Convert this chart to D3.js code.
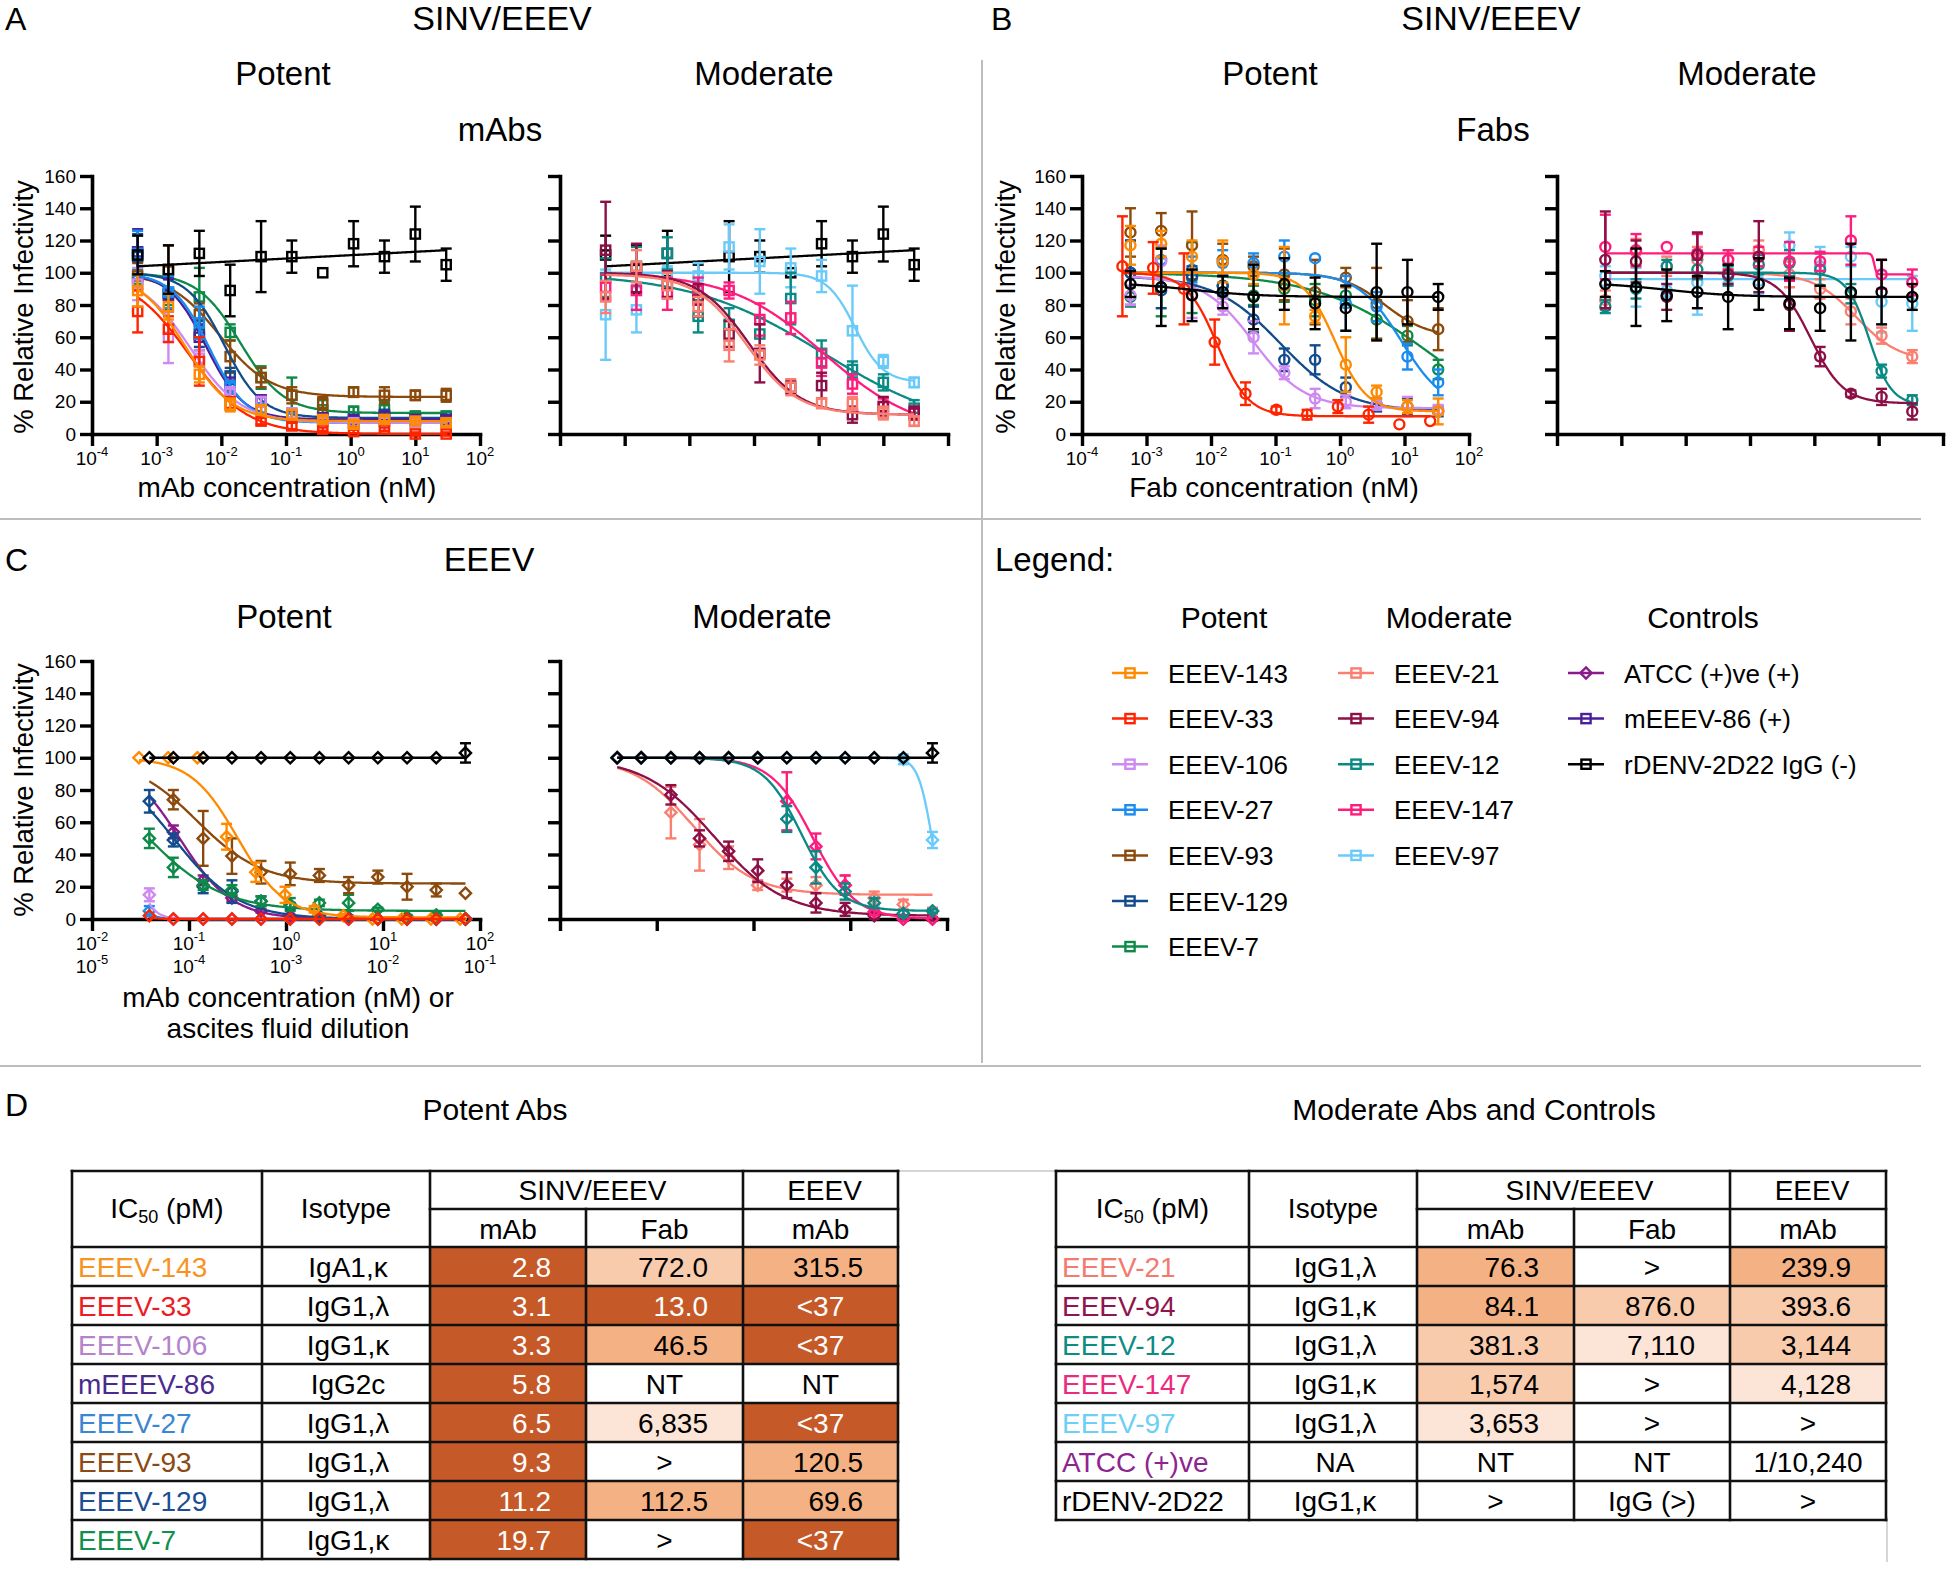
<!DOCTYPE html>
<html><head><meta charset="utf-8">
<script src="https://cdn.jsdelivr.net/npm/d3@7"></script>
<style>
body{margin:0;background:#fff;}
svg{display:block;}
</style></head><body>
<svg id="fig" width="1950" height="1571"></svg>
<script>
// ======================= DATA =======================
// concentrations (nM)
const concA   = [0.000508, 0.00152, 0.00457, 0.0137, 0.0412, 0.123, 0.370, 1.11, 3.33, 10, 30];
const concB   = [0.000564, 0.00169, 0.00508, 0.0152, 0.0457, 0.137, 0.411, 1.23, 3.70, 11.1, 33.3];
const concB33 = [0.000423, 0.00127, 0.00381, 0.0114, 0.0343, 0.103, 0.309, 0.926, 2.78, 8.33, 25];
const concC   = [0.039, 0.069, 0.14, 0.277, 0.553, 1.106, 2.21, 4.42, 8.85, 17.7, 35.4, 70.8];
const concC143= [0.0305, 0.061, 0.122, 0.244, 0.488, 0.977, 1.95, 3.9, 7.8, 15.6, 31.25, 62.5];

// ---- Panel A, potent (mAbs, SINV/EEEV) ----
const namesApot = ["EEEV-7","EEEV-93","EEEV-129","mEEEV-86","EEEV-27","EEEV-106","EEEV-33","EEEV-143","rDENV-2D22"];
const valsApot = [
  [96, 88, 85, 63, 35, 24, 15, 14, 15, 11, 11],
  [98, 101, 74, 48, 35, 24, 19, 26, 24, 24, 24],
  [110, 87, 62, 36, 20, 11, 10, 9, 12, 9, 9],
  [113, 86, 60, 30, 21, 12, 10, 9, 11, 9, 9],
  [112, 88, 69, 29, 16, 10, 8, 6, 8, 7, 7],
  [93, 60, 47, 25, 20, 13, 8, 7, 8, 7, 6],
  [76, 65, 45, 19, 8, 5, 3, 1.5, 3, 0, 0],
  [89, 79, 37, 18, 15, 12, 9, 6, 9, 8, 7],
  [111, 102, 112, 89, 110, 110, 100, 118, 110, 124, 105]
];
const errsApot = [
  [6, 8, 18, 5, 7, 11, 6, 3, 5, 3, 3],
  [8, 16, 7, 10, 6, 5, 4, 3, 5, 3, 4],
  [14, 10, 8, 5, 3, 3, 2, 2, 3, 2, 2],
  [14, 10, 8, 5, 3, 3, 2, 2, 3, 2, 2],
  [14, 10, 10, 4, 3, 3, 2, 2, 2, 2, 2],
  [10, 16, 5, 4, 3, 3, 2, 2, 2, 2, 2],
  [13, 8, 15, 4, 2, 2, 1, 1, 1, 1, 1],
  [10, 8, 5, 4, 3, 3, 2, 2, 2, 2, 2],
  [12, 15, 14, 16, 22, 10, 0, 14, 10, 17, 10]
];
// logistic fits: [bottom, top, IC50 (nM), hill]; linear fits: [a, b] (y = a + b*log10 x)
const fitsApot = [
  [13, 100, 0.0197, 1.3],
  [23, 100, 0.0093, 1.1],
  [10, 100, 0.0112, 1.5],
  [9, 100, 0.0058, 1.5],
  [7, 100, 0.0065, 1.5],
  [7, 100, 0.0033, 1.1],
  [0, 100, 0.0031, 0.95],
  [8, 100, 0.0028, 1.2],
  [110.9, 2.1]
];

// ---- Panel A, moderate ----
const namesAmod = ["rDENV-2D22","EEEV-97","EEEV-12","EEEV-147","EEEV-94","EEEV-21"];
const valsAmod = [
  [111, 102, 112, 89, 110, 110, 100, 118, 110, 124, 105],
  [74, 77, 100, 98, 116, 107, 103, 98, 64, 45, 32],
  [97, 104, 112, 73, 68, 62, 84, 50, 40, 32, 16],
  [91, 89, 87, 89, 89, 71, 72, 44, 31, 17, 13],
  [114, 103, 93, 83, 62, 50, 29, 30, 12, 17, 13],
  [85, 104, 92, 79, 55, 49, 29, 19, 19, 13, 8]
];
const errsAmod = [
  [12, 15, 14, 16, 22, 10, 0, 14, 10, 17, 10],
  [28, 14, 4, 8, 14, 20, 12, 10, 28, 4, 3],
  [12, 12, 10, 10, 10, 10, 16, 8, 5, 5, 5],
  [8, 12, 10, 8, 5, 10, 10, 8, 6, 5, 4],
  [30, 15, 8, 10, 8, 18, 4, 8, 5, 6, 4],
  [10, 10, 8, 6, 10, 6, 5, 3, 4, 4, 3]
];
const fitsAmod = [
  [110.9, 2.1],
  [32, 100, 3.65, 2.0],
  [0, 100, 1.2, 0.42],
  [0, 100, 1.2, 0.6],
  [12, 100, 0.0841, 1.1],
  [12, 99, 0.0763, 1.1]
];

// ---- Panel B, potent (Fabs) ----
const namesBpot = ["EEEV-7","EEEV-93","EEEV-27","EEEV-129","EEEV-106","EEEV-143","EEEV-33","rDENV-2D22"];
const valsBpot = [
  [85, 91, 97, 92, 86, 90, 83, 86, 71, 61, 40],
  [125, 126, 117, 108, 104, 99, 88, 97, 81, 70, 65],
  [100, 108, 102, 106, 106, 110, 109, 81, 79, 48, 32],
  [100, 89, 98, 92, 71, 46, 46, 29, 18, 17, 14],
  [86, 107, 86, 79, 60, 38, 22, 20, 18, 17, 15],
  [117, 118, 110, 107, 99, 92, 73, 43, 26, 17, 14],
  [104, 103, 90, 57, 25, 15, 12, 17, 12, 6, 8],
  [93, 91, 86, 88, 85, 93, 81, 78, 88, 88, 85]
];
const errsBpot = [
  [6, 18, 22, 6, 6, 8, 10, 6, 12, 6, 6],
  [15, 11, 21, 10, 6, 16, 20, 6, 22, 13, 13],
  [20, 8, 8, 8, 6, 10, 0, 17, 9, 8, 8],
  [20, 11, 6, 6, 8, 7, 9, 6, 4, 5, 3],
  [6, 10, 14, 5, 10, 4, 6, 4, 3, 6, 3],
  [12, 8, 10, 13, 6, 24, 4, 17, 4, 4, 8],
  [31, 16, 22, 14, 7, 2, 3, 4, 5, 0, 0],
  [8, 24, 16, 10, 20, 16, 16, 14, 30, 20, 8]
];
const fitsBpot = [
  [0, 100, 25, 0.5],
  [60, 100, 5, 1.3],
  [15, 100, 9, 1.3],
  [14, 98, 0.12, 0.85],
  [16, 98, 0.046, 1.1],
  [14, 100, 0.85, 1.8],
  [11, 100, 0.0125, 1.8],
  [85, 94, 0.005, 0.8]
];

// ---- Panel B, moderate ----
const namesBmod = ["EEEV-97","EEEV-21","EEEV-12","EEEV-147","EEEV-94","rDENV-2D22"];
const valsBmod = [
  [98, 91, 89, 94, 100, 95, 117, 104, 110, 82, 81],
  [83, 113, 104, 108, 108, 114, 99, 90, 76, 61, 48],
  [79, 90, 104, 102, 98, 105, 106, 102, 87, 39, 21],
  [116, 114, 116, 112, 108, 110, 107, 107, 120, 99, 94],
  [108, 107, 85, 111, 99, 110, 80, 48, 25, 23, 14],
  [93, 91, 86, 88, 85, 93, 81, 78, 88, 88, 85]
];
const errsBmod = [
  [6, 12, 4, 20, 6, 8, 8, 12, 6, 19, 17],
  [6, 8, 6, 8, 6, 6, 8, 6, 8, 5, 4],
  [4, 6, 4, 6, 6, 6, 8, 10, 6, 4, 3],
  [20, 10, 0, 12, 6, 6, 12, 6, 15, 9, 8],
  [30, 13, 8, 14, 6, 22, 16, 6, 2, 5, 5],
  [8, 24, 16, 10, 20, 16, 16, 14, 30, 20, 8]
];
const fitsBmod = [
  [96, 0],
  [45, 100, 4.5, 1.3],
  [18, 100, 7.11, 2.5],
  [99, 112, 8.5, 25],
  [19, 100, 0.876, 1.7],
  [85, 94, 0.005, 0.8]
];

// ---- Panel C, potent (EEEV) ----
const namesCpot = ["EEEV-27","EEEV-106","ATCC","EEEV-129","EEEV-7","EEEV-93","EEEV-143","EEEV-33","rDENV-2D22"];
const valsCpot = [
  [5, 0, 0, 0, 0, 0, 0, 0, 0, 0, 0, 0],
  [15, 0, 0, 0, 0, 0, 0, 0, 0, 0, 0, 0],
  [null, 54, 24, 13, 5, 2, 1, 0, 0, 0, 0, 0],
  [73, 49, 20, 17, 11, 8, 2, 1, 0, 0, 0, 0],
  [50, 32, 21, 18, 11, 9, 10, 10, 6, 1.5, 2.5, 0],
  [null, 74, 50, 39, 29, 28, 27, 21, 26, 20, 18, 16],
  [100, 100, 100, 51, 29, 15, 6, 2, 0, 0, 0, 0],
  [2, 0, 0, 0, 0, 0, 0, 0, 0, 0, 0, 0],
  [100, 100, 100, 100, 100, 100, 100, 100, 100, 100, 100, 103]
];
const errsCpot = [
  [3, 0, 0, 0, 0, 0, 0, 0, 0, 0, 0, 0],
  [4, 0, 0, 0, 0, 0, 0, 0, 0, 0, 0, 0],
  [0, 4, 3, 2, 1, 0, 0, 0, 0, 0, 0, 0],
  [7, 4, 4, 7, 3, 2, 1, 1, 0, 0, 0, 0],
  [6, 6, 3, 3, 3, 4, 2, 5, 1, 1, 1, 0],
  [0, 6, 17, 11, 7, 7, 4, 5, 4, 8, 4, 0],
  [0, 0, 0, 8, 6, 5, 2, 1, 0, 0, 0, 0],
  [0, 0, 0, 0, 0, 0, 0, 0, 0, 0, 0, 0],
  [0, 0, 0, 0, 0, 0, 0, 0, 0, 0, 0, 6]
];
const fitsCpot = [
  [0, 100, 0.02, 5],
  [0, 100, 0.025, 5],
  [0, 100, 0.08, 1.6],
  [0, 100, 0.0696, 1.3],
  [5, 100, 0.035, 1.1],
  [22, 100, 0.1205, 1.3],
  [1, 100, 0.3155, 1.8],
  [0, 100, 0.015, 5],
  [100, 0]
];

// ---- Panel C, moderate ----
const namesCmod = ["EEEV-21","EEEV-94","EEEV-147","EEEV-12","EEEV-97","rDENV-2D22"];
const valsCmod = [
  [100, 100, 66, 46, 38, 21, 21, 21, 21, 13, 9, 5],
  [100, 100, 77, 50, 42, 30, 21, 10, 6, 2, 0, 0],
  [100, 100, 100, 100, 100, 100, 73, 45, 21, 4.5, 0, 0],
  [100, 100, 100, 100, 100, 100, 62, 32, 17, 10, 3.5, 5],
  [100, 100, 100, 100, 100, 100, 100, 100, 100, 100, 99, 49],
  [100, 100, 100, 100, 100, 100, 100, 100, 100, 100, 100, 103]
];
const errsCmod = [
  [0, 0, 16, 16, 7, 3, 4, 5, 6, 4, 3, 2],
  [0, 0, 6, 5, 6, 7, 8, 6, 4, 2, 1, 1],
  [0, 0, 0, 0, 0, 0, 18, 8, 6, 2, 1, 0],
  [0, 0, 0, 0, 0, 0, 8, 10, 5, 3, 2, 1],
  [0, 0, 0, 0, 0, 0, 0, 0, 0, 0, 3, 5],
  [0, 0, 0, 0, 0, 0, 0, 0, 0, 0, 0, 6]
];
const fitsCmod = [
  [15, 100, 0.24, 1.4],
  [2, 100, 0.3936, 1.2],
  [0, 100, 4.128, 2],
  [5, 100, 3.144, 2.2],
  [0, 100, 70, 6],
  [100, 0]
];

// y ticks / x decades
const yTicks = [0, 20, 40, 60, 80, 100, 120, 140, 160];
const decadesAB = [-4, -3, -2, -1, 0, 1, 2];
const decadesC = [-2, -1, 0, 1, 2];
const decadesCdil = [-5, -4, -3, -2, -1];

// legend
const legendPotent = ["EEEV-143","EEEV-33","EEEV-106","EEEV-27","EEEV-93","EEEV-129","EEEV-7"];
const legendModerate = ["EEEV-21","EEEV-94","EEEV-12","EEEV-147","EEEV-97"];
const legendControls = ["ATCC","mEEEV-86","rDENV-2D22"];
const legendControlLabels = ["ATCC (+)ve (+)","mEEEV-86 (+)","rDENV-2D22 IgG (-)"];

// tables (IC50, pM)
const tLeftNames = ["EEEV-143","EEEV-33","EEEV-106","mEEEV-86","EEEV-27","EEEV-93","EEEV-129","EEEV-7"];
const tLeftIso   = ["IgA1,κ","IgG1,λ","IgG1,κ","IgG2c","IgG1,λ","IgG1,λ","IgG1,λ","IgG1,κ"];
const tLeftMab   = ["2.8","3.1","3.3","5.8","6.5","9.3","11.2","19.7"];
const tLeftFab   = ["772.0","13.0","46.5","NT","6,835",">","112.5",">"];
const tLeftEeev  = ["315.5","<37","<37","NT","<37","120.5","69.6","<37"];
const tRightNames= ["EEEV-21","EEEV-94","EEEV-12","EEEV-147","EEEV-97","ATCC (+)ve","rDENV-2D22"];
const tRightIso  = ["IgG1,λ","IgG1,κ","IgG1,λ","IgG1,κ","IgG1,λ","NA","IgG1,κ"];
const tRightMab  = ["76.3","84.1","381.3","1,574","3,653","NT",">"];
const tRightFab  = [">","876.0","7,110",">",">","NT","IgG (>)"];
const tRightEeev = ["239.9","393.6","3,144","4,128",">","1/10,240",">"];

// ======================= STYLE =======================
const FONT = '"Liberation Sans", Arial, Helvetica, sans-serif';
const seriesColor = {
  "EEEV-143":"#FF8A00","EEEV-33":"#FF2400","EEEV-106":"#CF8AF2","EEEV-27":"#1A8CF0",
  "EEEV-93":"#8B4A0C","EEEV-129":"#124C8C","EEEV-7":"#0E8A48","mEEEV-86":"#4B1E9A",
  "EEEV-21":"#FA7F70","EEEV-94":"#8C0F45","EEEV-12":"#0A8A85","EEEV-147":"#FF1C7C",
  "EEEV-97":"#6ACBFA","ATCC":"#8B1A8B","rDENV-2D22":"#000000"
};
const tableNameColor = {
  "EEEV-143":"#F7931E","EEEV-33":"#ED1C24","EEEV-106":"#B582CC","mEEEV-86":"#4B2A8E",
  "EEEV-27":"#3A86D2","EEEV-93":"#8B4A14","EEEV-129":"#1B4E92","EEEV-7":"#10904A",
  "EEEV-21":"#F27B6E","EEEV-94":"#8E1550","EEEV-12":"#0E8C84","EEEV-147":"#EC2A7D",
  "EEEV-97":"#6DCFF6","ATCC (+)ve":"#8E258F","rDENV-2D22":"#000000"
};
const shadeColors = ["#FFFFFF","#FCE4D6","#F8CBAD","#F4B183","#C55A28"];

const svg = d3.select("#fig").attr("font-family", FONT);

function txt(x, y, s, size, anchor, opts) {
  const t = svg.append("text").attr("x", x).attr("y", y).attr("font-size", size)
    .attr("text-anchor", anchor || "middle").attr("fill", (opts && opts.fill) || "#000").text(s);
  return t;
}

function fitFn(p) {
  if (p.length === 2) return x => p[0] + p[1] * Math.log10(x);
  return x => p[0] + (p[1] - p[0]) / (1 + Math.pow(x / p[2], p[3]));
}

function drawSymbol(g, shape, cx, cy, color) {
  const sw = 2.4;
  if (shape === "square") {
    g.append("rect").attr("x", cx - 4.6).attr("y", cy - 4.6).attr("width", 9.2).attr("height", 9.2)
      .attr("fill", "none").attr("stroke", color).attr("stroke-width", sw);
  } else if (shape === "circle") {
    g.append("circle").attr("cx", cx).attr("cy", cy).attr("r", 5)
      .attr("fill", "none").attr("stroke", color).attr("stroke-width", sw);
  } else {
    const r = 5.6;
    g.append("path").attr("d", `M${cx},${cy - r}L${cx + r},${cy}L${cx},${cy + r}L${cx - r},${cy}Z`)
      .attr("fill", "none").attr("stroke", color).attr("stroke-width", sw);
  }
}

function drawPanel(cfg) {
  const x = d3.scaleLog().domain(cfg.xDomain).range([cfg.left, cfg.right]);
  const y = d3.scaleLinear().domain([0, 160]).range([cfg.bottom, cfg.top]);
  const g = svg.append("g");

  // axes
  const yAx = d3.axisLeft(y).tickValues(yTicks).tickSize(12).tickSizeOuter(0).tickPadding(4);
  if (!cfg.labels) yAx.tickFormat("");
  const gy = g.append("g").attr("transform", `translate(${cfg.left},0)`).call(yAx)
    .attr("font-family", FONT).attr("font-size", 19);
  const xAx = d3.axisBottom(x).tickValues(cfg.decades.map(d => Math.pow(10, d)))
    .tickSize(12).tickSizeOuter(0).tickFormat("");
  const gx = g.append("g").attr("transform", `translate(0,${cfg.bottom})`).call(xAx);
  [gx, gy].forEach(a => {
    a.select(".domain").attr("stroke", "#000").attr("stroke-width", 3.6).attr("stroke-linecap", "square");
    a.selectAll(".tick line").attr("stroke", "#000").attr("stroke-width", 3.4);
    a.selectAll(".tick text").attr("fill", "#000");
  });

  if (cfg.labels) {
    cfg.decades.forEach(d => {
      const t = g.append("text").attr("x", x(Math.pow(10, d))).attr("y", cfg.bottom + 31)
        .attr("text-anchor", "middle").attr("font-size", 19);
      t.append("tspan").text("10");
      t.append("tspan").attr("dy", -9).attr("font-size", 13).text(d < 0 ? "-" + (-d) : String(d));
    });
    if (cfg.decades2) {
      cfg.decades.forEach((d, i) => {
        const d2 = cfg.decades2[i];
        const t = g.append("text").attr("x", x(Math.pow(10, d))).attr("y", cfg.bottom + 54)
          .attr("text-anchor", "middle").attr("font-size", 19);
        t.append("tspan").text("10");
        t.append("tspan").attr("dy", -9).attr("font-size", 13).text(d2 < 0 ? "-" + (-d2) : String(d2));
      });
    }
  }

  // series
  cfg.names.forEach((name, i) => {
    const xs = (cfg.xsOverride && cfg.xsOverride[name]) || cfg.xs;
    const vals = cfg.vals[i], errs = cfg.errs[i];
    const color = seriesColor[name];
    const f = fitFn(cfg.fits[i]);
    const lo = Math.log10(d3.min(xs)), hi = Math.log10(d3.max(xs));
    const pts = d3.range(0, 241).map(k => Math.pow(10, lo + (hi - lo) * k / 240));
    const sg = g.append("g");
    sg.append("path").datum(pts)
      .attr("d", d3.line().x(v => x(v)).y(v => y(f(v))))
      .attr("fill", "none").attr("stroke", color).attr("stroke-width", 2.3);
    vals.forEach((v, j) => {
      if (v === null) return;
      const cx = x(xs[j]), e = errs[j];
      if (e > 0) {
        const y1 = y(v - e), y2 = y(v + e);
        sg.append("line").attr("x1", cx).attr("x2", cx).attr("y1", y1).attr("y2", y2)
          .attr("stroke", color).attr("stroke-width", 2.4);
        [y1, y2].forEach(yy => sg.append("line").attr("x1", cx - 5.5).attr("x2", cx + 5.5)
          .attr("y1", yy).attr("y2", yy).attr("stroke", color).attr("stroke-width", 2.4));
      }
      drawSymbol(sg, cfg.shape, cx, y(v), color);
    });
  });
}

// ======================= LAYOUT =======================
// separators
svg.append("line").attr("x1", 982).attr("x2", 982).attr("y1", 60).attr("y2", 1063).attr("stroke", "#BDBDBD").attr("stroke-width", 2);
svg.append("line").attr("x1", 0).attr("x2", 1921).attr("y1", 519).attr("y2", 519).attr("stroke", "#BDBDBD").attr("stroke-width", 2);
svg.append("line").attr("x1", 0).attr("x2", 1921).attr("y1", 1066).attr("y2", 1066).attr("stroke", "#BDBDBD").attr("stroke-width", 2);

// titles
txt(5, 30, "A", 32, "start");
txt(502, 30, "SINV/EEEV", 34);
txt(283, 85, "Potent", 33);
txt(764, 85, "Moderate", 33);
txt(500, 141, "mAbs", 33);
txt(991, 30, "B", 32, "start");
txt(1491, 30, "SINV/EEEV", 34);
txt(1270, 85, "Potent", 33);
txt(1747, 85, "Moderate", 33);
txt(1493, 141, "Fabs", 33);
txt(5, 571, "C", 32, "start");
txt(489, 571, "EEEV", 34);
txt(284, 628, "Potent", 33);
txt(762, 628, "Moderate", 33);
txt(995, 571, "Legend:", 33, "start");
txt(5, 1116, "D", 32, "start");
txt(495, 1120, "Potent Abs", 30);
txt(1474, 1120, "Moderate Abs and Controls", 30);

// y-axis titles
[[33, 307], [1015, 307], [33, 790]].forEach(([bx, cy]) => {
  svg.append("text").attr("transform", `translate(${bx},${cy}) rotate(-90)`)
    .attr("text-anchor", "middle").attr("font-size", 27.5).text("% Relative Infectivity");
});
txt(287, 497, "mAb concentration (nM)", 28);
txt(1274, 497, "Fab concentration (nM)", 28);
txt(288, 1007, "mAb concentration (nM) or", 28);
txt(288, 1038, "ascites fluid dilution", 28);

// panels
drawPanel({left: 92, right: 480, bottom: 434, top: 176, xDomain: [1e-4, 1e2], decades: decadesAB, labels: true,
  shape: "square", xs: concA, names: namesApot, vals: valsApot, errs: errsApot, fits: fitsApot});
drawPanel({left: 560, right: 948, bottom: 434, top: 176, xDomain: [1e-4, 1e2], decades: decadesAB, labels: false,
  shape: "square", xs: concA, names: namesAmod, vals: valsAmod, errs: errsAmod, fits: fitsAmod});
drawPanel({left: 1082, right: 1469, bottom: 434, top: 176, xDomain: [1e-4, 1e2], decades: decadesAB, labels: true,
  shape: "circle", xs: concB, xsOverride: {"EEEV-33": concB33}, names: namesBpot, vals: valsBpot, errs: errsBpot, fits: fitsBpot});
drawPanel({left: 1557, right: 1943, bottom: 434, top: 176, xDomain: [1e-4, 1e2], decades: decadesAB, labels: false,
  shape: "circle", xs: concB, names: namesBmod, vals: valsBmod, errs: errsBmod, fits: fitsBmod});
drawPanel({left: 92, right: 480, bottom: 919, top: 661, xDomain: [1e-2, 1e2], decades: decadesC, decades2: decadesCdil, labels: true,
  shape: "diamond", xs: concC, xsOverride: {"EEEV-143": concC143}, names: namesCpot, vals: valsCpot, errs: errsCpot, fits: fitsCpot});
drawPanel({left: 560, right: 947, bottom: 919, top: 661, xDomain: [1e-2, 1e2], decades: decadesC, labels: false,
  shape: "diamond", xs: concC, names: namesCmod, vals: valsCmod, errs: errsCmod, fits: fitsCmod});

// legend
txt(1224, 628, "Potent", 30);
txt(1449, 628, "Moderate", 30);
txt(1703, 628, "Controls", 30);
function legendColumn(names, labels, x0, shapeFor) {
  names.forEach((n, i) => {
    const cy = 673 + i * 45.6;
    const color = seriesColor[n];
    const g = svg.append("g");
    g.append("line").attr("x1", x0).attr("x2", x0 + 36).attr("y1", cy).attr("y2", cy).attr("stroke", color).attr("stroke-width", 2.5);
    drawSymbol(g, shapeFor(n), x0 + 18, cy, color);
    txt(x0 + 56, cy + 9.5, labels[i], 26, "start");
  });
}
legendColumn(legendPotent, legendPotent, 1112, () => "square");
legendColumn(legendModerate, legendModerate, 1338, () => "square");
legendColumn(legendControls, legendControlLabels, 1568, n => n === "ATCC" ? "diamond" : "square");

// tables
function shadeLevel(s) {
  if (s === "<37") return 4;
  if (!/^[\d,.]+$/.test(s)) return 0;
  const v = parseFloat(s.replace(/,/g, ""));
  if (v < 37) return 4;
  if (v < 350) return 3;
  if (v < 3500) return 2;
  return 1;
}
const TF = 28;
function drawTable(colX, rowY, names, iso, mab, fab, eeev) {
  const g = svg.append("g");
  const top = rowY[0], hdr2 = rowY[1], body = rowY[2];
  const rh = rowY[3] - rowY[2];
  const bottom = body + names.length * rh;
  const cols = [mab, fab, eeev];
  // cell fills
  names.forEach((n, i) => {
    const ry = body + i * rh;
    cols.forEach((c, k) => {
      const lvl = shadeLevel(c[i]);
      if (lvl > 0) g.append("rect").attr("x", colX[k + 2]).attr("y", ry).attr("width", colX[k + 3] - colX[k + 2])
        .attr("height", rh).attr("fill", shadeColors[lvl]);
    });
  });
  const L = (x1, y1, x2, y2) => g.append("line").attr("x1", x1).attr("y1", y1).attr("x2", x2).attr("y2", y2)
    .attr("stroke", "#111").attr("stroke-width", 2.6).attr("stroke-linecap", "square");
  L(colX[0], top, colX[5], top);
  L(colX[2], hdr2, colX[5], hdr2);
  for (let i = 0; i <= names.length; i++) L(colX[0], body + i * rh, colX[5], body + i * rh);
  [0, 1, 2, 4, 5].forEach(k => L(colX[k], top, colX[k], bottom));
  L(colX[3], hdr2, colX[3], bottom);
  // header text
  const ic = g.append("text").attr("x", (colX[0] + colX[1]) / 2).attr("y", top + 47).attr("text-anchor", "middle").attr("font-size", TF);
  ic.append("tspan").text("IC");
  ic.append("tspan").attr("font-size", 18).attr("dy", 5).text("50");
  ic.append("tspan").attr("dy", -5).text(" (pM)");
  g.append("text").attr("x", (colX[1] + colX[2]) / 2).attr("y", top + 47).attr("text-anchor", "middle").attr("font-size", TF).text("Isotype");
  g.append("text").attr("x", (colX[2] + colX[4]) / 2 + 6).attr("y", top + 29).attr("text-anchor", "middle").attr("font-size", TF).text("SINV/EEEV");
  g.append("text").attr("x", (colX[4] + colX[5]) / 2 + 4).attr("y", top + 29).attr("text-anchor", "middle").attr("font-size", TF).text("EEEV");
  ["mAb", "Fab", "mAb"].forEach((s, k) => g.append("text").attr("x", (colX[k + 2] + colX[k + 3]) / 2).attr("y", hdr2 + 30)
    .attr("text-anchor", "middle").attr("font-size", TF).text(s));
  // body text
  names.forEach((n, i) => {
    const by = body + i * rh + 29.5;
    g.append("text").attr("x", colX[0] + 6).attr("y", by).attr("font-size", TF).attr("fill", tableNameColor[n]).text(n);
    g.append("text").attr("x", (colX[1] + colX[2]) / 2 + 2).attr("y", by).attr("text-anchor", "middle").attr("font-size", TF).text(iso[i]);
    cols.forEach((c, k) => {
      const s = c[i];
      const numeric = /^[\d,.]+$/.test(s);
      const lvl = shadeLevel(s);
      g.append("text").attr("x", numeric ? colX[k + 3] - 35 : (colX[k + 2] + colX[k + 3]) / 2)
        .attr("y", by).attr("text-anchor", numeric ? "end" : "middle").attr("font-size", TF)
        .attr("fill", lvl === 4 ? "#FFFFFF" : "#000").text(s);
    });
  });
}
svg.append("line").attr("x1", 898).attr("x2", 1056).attr("y1", 1171).attr("y2", 1171).attr("stroke", "#C8C8C8").attr("stroke-width", 1.5);
svg.append("line").attr("x1", 1887).attr("x2", 1887).attr("y1", 1517).attr("y2", 1562).attr("stroke", "#C8C8C8").attr("stroke-width", 1.5);
drawTable([72, 262, 430, 586, 743, 898], [1171, 1209, 1247, 1286], tLeftNames, tLeftIso, tLeftMab, tLeftFab, tLeftEeev);
drawTable([1056, 1249, 1417, 1574, 1730, 1886], [1171, 1209, 1247, 1286], tRightNames, tRightIso, tRightMab, tRightFab, tRightEeev);
</script></body></html>
